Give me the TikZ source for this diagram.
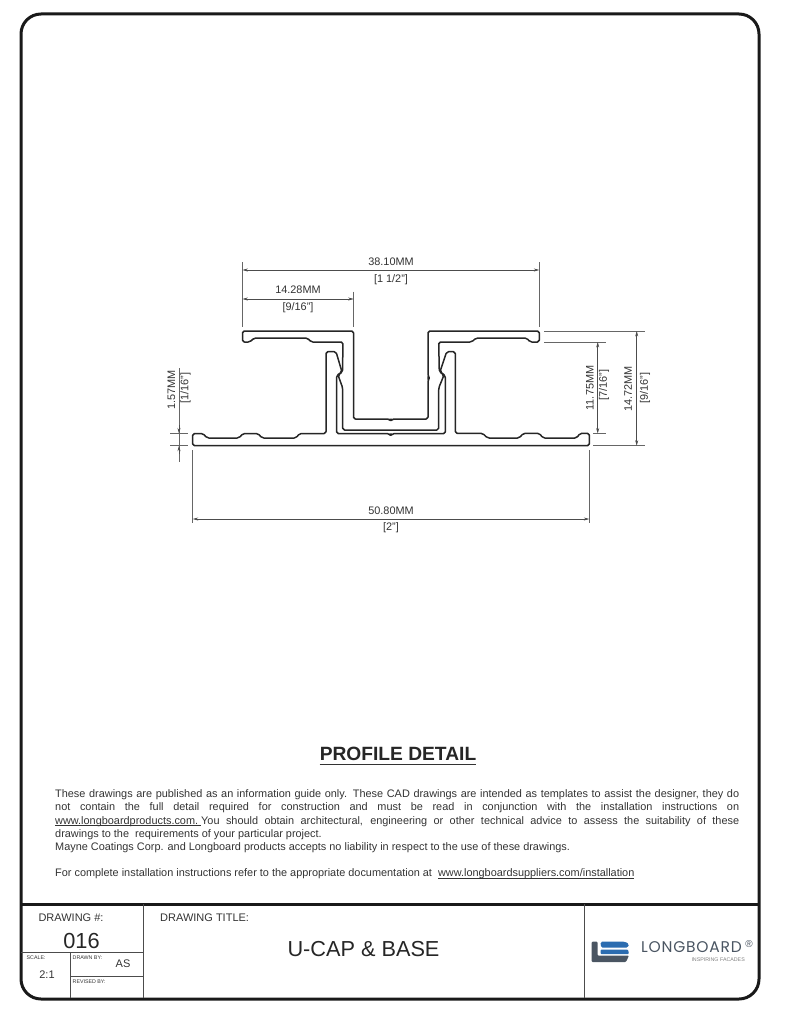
\documentclass[tikz,border=0pt]{standalone}
\usepackage{fontspec}
\setmainfont{Liberation Sans}
\newfontfamily\logofont[LetterSpace=5]{Poppins}
\usetikzlibrary{arrows.meta}
\definecolor{inkgray}{HTML}{333333}
\definecolor{logoblue}{HTML}{2B6CB0}
\definecolor{logogray}{HTML}{4A5562}
\newcommand\noteline[1]{\underline{\smash{#1}}}
\tikzset{
  frameline/.style={line width=3pt,color=black!90},
  cellline/.style={line width=0.9pt,color=black!70},
  profile/.style={line width=1.5pt,color=black!85,rounded corners=1.8pt,line join=round},
  dimline/.style={line width=0.6pt,color=black!70,{Stealth[length=5.5pt,width=3pt]}-{Stealth[length=5.5pt,width=3pt]}},
  extline/.style={line width=0.6pt,color=black!60},
  dimtext/.style={font=\fontsize{10.9}{12}\selectfont,text=inkgray,inner sep=0pt},
  smalltext/.style={font=\fontsize{5.3}{6}\selectfont,text=inkgray,inner sep=0pt,anchor=west},
  blocktext/.style={font=\fontsize{11}{12}\selectfont,text=inkgray,inner sep=0pt}
}
\begin{document}
\begin{tikzpicture}[x=1pt,y=-1pt]
\useasboundingbox (0,0) rectangle (794,1024);
% sheet frame and title block
\draw[frameline,rounded corners=20pt] (21,14) rectangle (759,999);
\draw[frameline] (21,904) -- (759,904);
\draw[cellline] (143.7,904) -- (143.7,998);
\draw[cellline] (584.7,904) -- (584.7,998);
\draw[cellline] (21,952) -- (143.7,952);
\draw[cellline] (70,952) -- (70,998);
\draw[cellline] (70,976) -- (143.7,976);
% u-cap
\draw[profile] (242.5,331)--(353.5,331)--(353.5,419)--(389.5,419)--(390.7,420.8)--(392,419)--(428,419)--(428,379.5)--(429.3,378)--(428,376.5)--(428,331)--(539.3,331)--(539.3,342)--(530,342)--(526.7,338)--(476,338)--(471.7,342)--(438.7,342)--(439.3,371.7)--(444,375)--(438.7,388)--(438.7,430)--(342.7,430)--(342.7,388)--(338,375)--(342.5,372)--(343,342)--(311,342)--(307.5,338)--(254,338)--(250,342)--(242.5,342)--cycle;
% base
\draw[profile] (192.7,433.5)--(203,433.5)--(207,438)--(239,438)--(243,433.5)--(258,433.5)--(262,438)--(296,438)--(299.5,433.5)--(326,433.5)--(326,351.7)--(336,351.7)--(342,372)--(336.6,375.5)--(336.6,433.7)--(389.5,433.7)--(390.7,435.5)--(392,433.7)--(445.3,433.7)--(445.3,375.7)--(440,371.7)--(446.7,351.7)--(455.3,351.7)--(455.3,433.3)--(482.7,433.3)--(487.3,438)--(519.3,438)--(523.3,433.3)--(539.3,433.3)--(543,438)--(576.7,438)--(580,433.3)--(589.3,433.3)--(589.3,445.7)--(192.7,445.7)--cycle;
% dimensions, top
\draw[extline] (242.4,262) -- (242.4,326.5);
\draw[extline] (539.3,262) -- (539.3,326.5);
\draw[extline] (353.7,291.5) -- (353.7,327);
\draw[dimline] (242.4,270) -- (539.3,270);
\draw[dimline] (242.4,299) -- (353.7,299);
\node[dimtext] (wcap) at (391,262) {38.10MM};
\node[dimtext] (wcapin) at (391,280) {[1 1/2"]};
\node[dimtext] (wleg) at (298,290) {14.28MM};
\node[dimtext] (wlegin) at (298,308) {[9/16"]};
% dimensions, bottom
\draw[extline] (192.7,450) -- (192.7,523);
\draw[extline] (589.3,450) -- (589.3,523);
\draw[dimline] (192.7,519) -- (589.3,519);
\node[dimtext] (wbase) at (391,511) {50.80MM};
\node[dimtext] (wbasein) at (391,528) {[2"]};
% dimensions, right
\draw[extline] (544,331) -- (645,331);
\draw[extline] (593,445.7) -- (645,445.7);
\draw[extline] (544,342) -- (606,342);
\draw[extline] (593,433.5) -- (606,433.5);
\draw[dimline] (636.7,331) -- (636.7,445.7);
\draw[dimline] (597.7,342) -- (597.7,433.5);
\node[dimtext,rotate=90] (hall) at (628,389) {14.72MM};
\node[dimtext,rotate=90] (hallin) at (645,388) {[9/16"]};
\node[dimtext,rotate=90] (hin) at (590,388) {11.75MM};
\node[dimtext,rotate=90] (hinin) at (604,385) {[7/16"]};
% dimensions, left
\draw[extline] (170,433.5) -- (188,433.5);
\draw[extline] (170,445.7) -- (188,445.7);
\draw[extline] (179,368) -- (179,461.5);
\draw[dimline,-{Stealth[length=5.5pt,width=3pt]}] (179,425) -- (179,433.5);
\draw[dimline,-{Stealth[length=5.5pt,width=3pt]}] (179,454) -- (179,445.7);
\node[dimtext,rotate=90] (hlip) at (171.5,390) {1.57MM};
\node[dimtext,rotate=90] (hlipin) at (185.5,388) {[1/16"]};
% notes
\node[font=\bfseries\fontsize{19.2}{21}\selectfont,text=black!85,inner sep=0pt] (heading) at (398,754) {PROFILE DETAIL};
\draw[line width=1pt,color=black!80] (heading.west |- 0,764) -- (heading.east |- 0,764);
\node[anchor=north west,inner sep=0pt,text width=684pt,align=justify,text=inkgray,font=\fontsize{10.9}{13.3}\selectfont] (notes) at (55,789.5) {These drawings are published as an information guide only. These CAD drawings are intended as templates to assist the designer, they do\linebreak not contain the full detail required for construction and must be read in conjunction with the installation instructions on\linebreak \noteline{www.longboardproducts.com.\ }You should obtain architectural, engineering or other technical advice to assess the suitability of these\linebreak drawings to the\ \ requirements of your particular project.\\ Mayne Coatings Corp. and Longboard products accepts no liability in respect to the use of these drawings.};
\node[anchor=west,inner sep=0pt,text=inkgray,font=\fontsize{10.9}{13.3}\selectfont] (install) at (55,873.5) {For complete installation instructions refer to the appropriate documentation at\ \ \noteline{www.longboardsuppliers.com/installation}};
% title block texts
\node[blocktext] (numlabel) at (71,918) {DRAWING \#:};
\node[blocktext,anchor=west] (titlelabel) at (160,918) {DRAWING TITLE:};
\node[font=\fontsize{21.8}{23}\selectfont,text=black!85,inner sep=0pt] (num) at (81.5,941) {016};
\node[smalltext] (scalelabel) at (26.5,958) {SCALE:};
\node[blocktext] (scale) at (47,975) {2:1};
\node[smalltext] (drawnlabel) at (72.5,958) {DRAWN BY:};
\node[blocktext] (drawn) at (123,964) {AS};
\node[smalltext] (revlabel) at (72.5,981.5) {REVISED BY:};
\node[font=\fontsize{21.7}{23}\selectfont,text=black!85,inner sep=0pt] (title) at (363.5,949) {U-CAP \& BASE};
% logo
\fill[logogray,rounded corners=1pt] (591.7,941.7) -- (597.5,941.7) -- (597.5,955.5) -- (629,955.5) -- (626,962) -- (591.7,962) -- cycle;
\fill[logoblue,rounded corners=1.5pt] (600.5,941.7) -- (625,941.7) -- (629,944) -- (628,947.5) -- (601,947.5) -- cycle;
\fill[logoblue,rounded corners=1pt] (600.5,949.5) -- (628,949.5) -- (629,954) -- (600.5,954) -- cycle;
\node[anchor=west,inner sep=0pt,text=logogray,font=\logofont\fontsize{15.5}{16}\selectfont] (logoname) at (641,947.5) {LONGBOARD};
\node[inner sep=0pt,text=logogray,font=\fontsize{10}{10}\selectfont] (logoreg) at (749,944.5) {®};
\node[anchor=east,inner sep=0pt,text=black!50,font=\fontsize{5.3}{6}\selectfont] (logotag) at (745,959.5) {INSPIRING FACADES};
\end{tikzpicture}
\end{document}
